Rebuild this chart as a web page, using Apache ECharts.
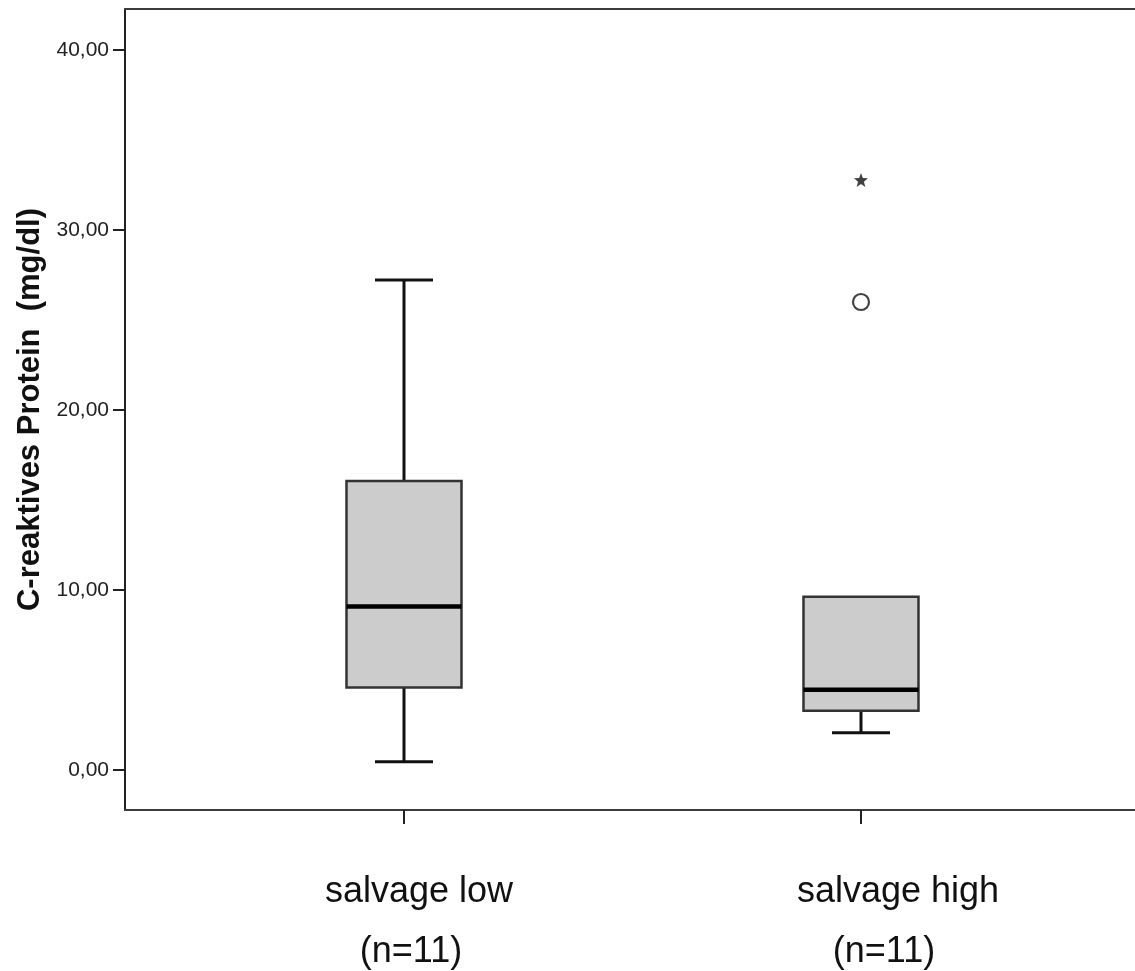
<!DOCTYPE html>
<html>
<head>
<meta charset="utf-8">
<script src="https://cdn.jsdelivr.net/npm/echarts@6/dist/echarts.min.js"></script>
<style>
html,body{margin:0;padding:0;background:#fff;}
#chart{width:1135px;height:971px;}
</style>
</head>
<body>
<div id="chart"></div>
<script>
// ---- data ----
const categories = ['salvage low', 'salvage high'];
const sampleSizes = ['(n=11)', '(n=11)'];
const groupPos = [1, 2];
const whiskerLow = [0.46, 2.07];
const q1Values = [4.59, 3.29];
const medianValues = [9.09, 4.46];
const q3Values = [16.06, 9.63];
const whiskerHigh = [27.22, 9.63];
const outliersCircle = [[2, 26.0]];
const outliersStar = [[2, 32.78]];
const yTickValues = [0, 10, 20, 30, 40];

// ---- layout ----
const X_MIN = 0.3895, X_MAX = 2.5996;
const PX_PER_X = 457;
const line1Shift = [15, 37];
const line2Shift = [7, 23];
const FONT = "'Liberation Sans', Arial, sans-serif";

const boxData = groupPos.map((p, i) => [p, whiskerLow[i], q1Values[i], medianValues[i], q3Values[i], whiskerHigh[i]]);
const line1Pos = groupPos.map((p, i) => p + line1Shift[i] / PX_PER_X);
const line2Pos = groupPos.map((p, i) => p + line2Shift[i] / PX_PER_X);

function nearestIndex(arr, v) {
  let best = 0, d = Infinity;
  arr.forEach((a, i) => { if (Math.abs(a - v) < d) { d = Math.abs(a - v); best = i; } });
  return best;
}

// five-pointed star symbol path
function starPath() {
  const pts = [];
  for (let k = 0; k < 10; k++) {
    const r = k % 2 === 0 ? 10 : 4.2;
    const a = (-90 + 36 * k) * Math.PI / 180;
    pts.push((10 + r * Math.cos(a)).toFixed(2) + ' ' + (10 + r * Math.sin(a)).toFixed(2));
  }
  return 'path://M' + pts.join(' L') + ' Z';
}

const chart = echarts.init(document.getElementById('chart'));
chart.setOption({
  animation: false,
  backgroundColor: '#ffffff',
  grid: { left: 125, top: 9, right: 0, bottom: 161, containLabel: false },
  xAxis: [
    {
      type: 'value', position: 'bottom', min: X_MIN, max: X_MAX,
      axisLine: { show: true, onZero: false, lineStyle: { color: '#3c3c3c', width: 2 } },
      axisTick: { show: true, customValues: groupPos, length: 14, lineStyle: { color: '#222', width: 2 } },
      axisLabel: {
        show: true, customValues: line1Pos, margin: 64,
        fontFamily: FONT, fontSize: 36, color: '#111',
        formatter: v => categories[nearestIndex(line1Pos, v)]
      },
      splitLine: { show: false }
    },
    {
      type: 'value', position: 'bottom', min: X_MIN, max: X_MAX,
      axisLine: { show: false }, axisTick: { show: false },
      axisLabel: {
        show: true, customValues: line2Pos, margin: 124,
        fontFamily: FONT, fontSize: 36, color: '#111',
        formatter: v => sampleSizes[nearestIndex(line2Pos, v)]
      },
      splitLine: { show: false }
    },
    {
      type: 'value', position: 'top', min: X_MIN, max: X_MAX,
      axisLine: { show: true, onZero: false, lineStyle: { color: '#3c3c3c', width: 2 } },
      axisTick: { show: false }, axisLabel: { show: false }, splitLine: { show: false }
    }
  ],
  yAxis: {
    type: 'value', min: -2.222, max: 42.278,
    name: 'C-reaktives Protein  (mg/dl)',
    nameLocation: 'middle', nameRotate: 90, nameGap: 77,
    nameTextStyle: { fontFamily: FONT, fontSize: 31, fontWeight: 'bold', color: '#111' },
    axisLine: { show: true, onZero: false, lineStyle: { color: '#222', width: 2 } },
    axisTick: { show: true, customValues: yTickValues, length: 12, lineStyle: { color: '#222', width: 2 } },
    axisLabel: {
      show: true, customValues: yTickValues, margin: 16,
      fontFamily: FONT, fontSize: 21, color: '#222',
      formatter: v => v.toFixed(2).replace('.', ',')
    },
    splitLine: { show: false }
  },
  series: [
    {
      type: 'custom',
      xAxisIndex: 0, yAxisIndex: 0,
      data: boxData,
      renderItem: function (params, api) {
        const pos = api.value(0);
        const lo = api.value(1), q1 = api.value(2), med = api.value(3), q3 = api.value(4), hi = api.value(5);
        const x = api.coord([pos, med])[0];
        const y = v => api.coord([pos, v])[1];
        const half = 57.5, capHalf = 29;
        const whiskerStyle = { stroke: '#111', lineWidth: 3 };
        const children = [];
        if (hi > q3) {
          children.push({ type: 'line', shape: { x1: x, y1: y(hi), x2: x, y2: y(q3) }, style: whiskerStyle });
          children.push({ type: 'line', shape: { x1: x - capHalf, y1: y(hi), x2: x + capHalf, y2: y(hi) }, style: whiskerStyle });
        }
        if (lo < q1) {
          children.push({ type: 'line', shape: { x1: x, y1: y(q1), x2: x, y2: y(lo) }, style: whiskerStyle });
          children.push({ type: 'line', shape: { x1: x - capHalf, y1: y(lo), x2: x + capHalf, y2: y(lo) }, style: whiskerStyle });
        }
        children.push({
          type: 'rect',
          shape: { x: x - half, y: y(q3), width: half * 2, height: y(q1) - y(q3) },
          style: { fill: '#cccccc', stroke: '#333', lineWidth: 2.5 }
        });
        children.push({
          type: 'line',
          shape: { x1: x - half, y1: y(med), x2: x + half, y2: y(med) },
          style: { stroke: '#000', lineWidth: 4.5 }
        });
        return { type: 'group', children: children };
      },
      z: 2
    },
    {
      type: 'scatter', xAxisIndex: 0, yAxisIndex: 0,
      data: outliersCircle,
      symbol: 'circle', symbolSize: 16,
      itemStyle: { color: '#ffffff', borderColor: '#111', borderWidth: 2.2 },
      z: 3
    },
    {
      type: 'scatter', xAxisIndex: 0, yAxisIndex: 0,
      data: outliersStar,
      symbol: starPath(), symbolSize: 14,
      itemStyle: { color: '#111' },
      z: 3
    }
  ]
});
</script>
</body>
</html>
